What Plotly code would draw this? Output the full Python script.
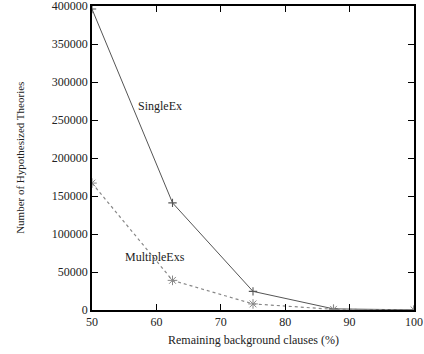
import plotly.graph_objects as go

x_vals = [50, 62.5, 75, 87.5, 100]
single_ex = [396000, 141000, 24500, 1500, 200]
multiple_exs = [167000, 39000, 8000, 900, 150]
x_ticks = [50, 60, 70, 80, 90, 100]
y_ticks = [0, 50000, 100000, 150000, 200000, 250000, 300000, 350000, 400000]

FAM = "Liberation Serif, Times New Roman, serif"
font = dict(family=FAM, size=12, color="#222")

fig = go.Figure()
fig.add_trace(go.Scatter(x=x_vals, y=single_ex, mode="lines+markers",
                         line=dict(color="#555", width=1),
                         marker=dict(symbol="cross-thin-open", size=6, line=dict(color="#333", width=1.1)),
                         showlegend=False))
fig.add_trace(go.Scatter(x=x_vals, y=multiple_exs, mode="lines+markers",
                         line=dict(color="#888", width=1.2, dash="3px,3px"),
                         marker=dict(symbol="asterisk-open", size=8, line=dict(color="#666", width=1)),
                         showlegend=False))

fig.add_annotation(x=60.6, y=268000, text="SingleEx", showarrow=False, font=font)
fig.add_annotation(x=59.8, y=69500, text="MultipleExs", showarrow=False, font=font)

# axis titles
fig.add_annotation(xref="paper", yref="paper", x=0.5, y=-0.099, yanchor="middle",
                   text="Remaining background clauses (%)", showarrow=False, font=font)
fig.add_annotation(xref="paper", yref="paper", x=-0.224, y=0.5, xanchor="center", yanchor="middle",
                   textangle=-90, text="Number of Hypothesized Theories", showarrow=False,
                   font=dict(family=FAM, size=11, color="#222"))

axis_common = dict(showgrid=False, zeroline=False, showline=True, linecolor="black", linewidth=1.5,
                   mirror="ticks", ticks="inside", ticklen=6, tickcolor="black", tickwidth=1.2,
                   tickfont=font, automargin=False, ticklabeloverflow="allow")
fig.update_xaxes(range=[50, 100], tickvals=x_ticks, **axis_common)
fig.update_yaxes(range=[0, 400000], tickvals=y_ticks, tickformat="d", **axis_common)

fig.update_layout(width=424, height=354, margin=dict(l=92, r=10, t=6, b=44),
                  paper_bgcolor="white", plot_bgcolor="white", font=font)
fig.write_html("out.html", config={"displayModeBar": False},
               post_script="document.body.style.margin='0';document.body.style.overflow='hidden';")
